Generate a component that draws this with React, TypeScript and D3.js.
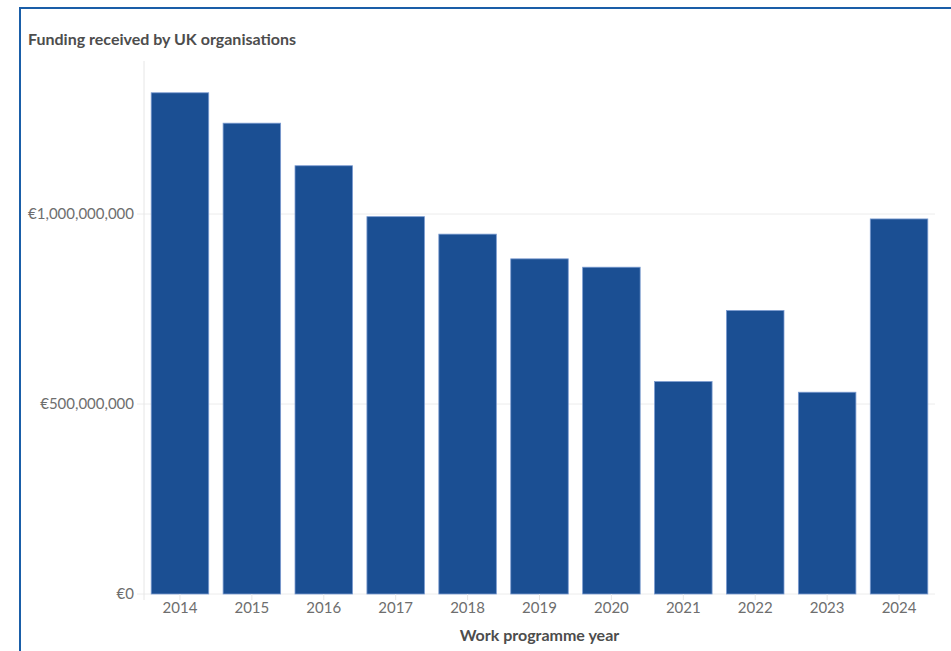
import React from "react";
import * as d3 from "d3";

const years = ["2014", "2015", "2016", "2017", "2018", "2019", "2020", "2021", "2022", "2023", "2024"];
const funding = [1319e6, 1239e6, 1127e6, 993e6, 947e6, 882e6, 860e6, 559e6, 746e6, 531e6, 987e6];
const yTicks = [0, 500e6, 1000e6];
const title = "Funding received by UK organisations";
const xTitle = "Work programme year";

const W = 951;
const H = 651;
const plotLeft = 144;
const plotRight = 935;
const plotTop = 62;
const plotBottom = 594;
const font = "Lato, 'Open Sans', sans-serif";

export default function App() {
  const x = d3.scaleBand<string>().domain(years).range([plotLeft, plotRight]).paddingInner(0.2).paddingOuter(0.1);
  const y = d3.scaleLinear().domain([0, 1.4e9]).range([plotBottom, plotTop]);
  const fmt = (v: number) => "€" + d3.format(",")(v);

  return (
    <svg width={W} height={H} style={{ position: "absolute", left: 0, top: 0, background: "#fff" }} fontFamily={font}>
      <rect x={20} y={8} width={1200} height={1200} fill="none" stroke="#1a5ea8" strokeWidth={2} />
      <text x={28} y={45} fontSize={16} fontWeight={700} fill="#4d4d4d">{title}</text>
      {yTicks.map((t) => (
        <g key={t}>
          <line x1={137} x2={plotRight} y1={y(t)} y2={y(t)} stroke="#ececec" strokeWidth={1} />
          <text x={134} y={y(t)} dy="0.35em" textAnchor="end" fontSize={15} fill="#6e6e6e">{fmt(t)}</text>
        </g>
      ))}
      <line x1={plotLeft} x2={plotLeft} y1={plotTop - 1} y2={plotBottom + 6} stroke="#e6e6e6" strokeWidth={1} />
      {years.map((yr, i) => (
        <g key={yr}>
          <rect
            x={x(yr)!}
            y={y(funding[i])}
            width={x.bandwidth()}
            height={y(0) - y(funding[i])}
            fill="#1b4f93"
            stroke="#7b9bd0"
            strokeWidth={0.8}
          />
          <line x1={x(yr)! + x.bandwidth() / 2} x2={x(yr)! + x.bandwidth() / 2} y1={plotBottom} y2={plotBottom + 6} stroke="#e6e6e6" />
          <text x={x(yr)! + x.bandwidth() / 2} y={613} textAnchor="middle" fontSize={15} fill="#6e6e6e">{yr}</text>
        </g>
      ))}
      <text x={(plotLeft + plotRight) / 2} y={641} textAnchor="middle" fontSize={16} fontWeight={700} fill="#4d4d4d">{xTitle}</text>
    </svg>
  );
}
